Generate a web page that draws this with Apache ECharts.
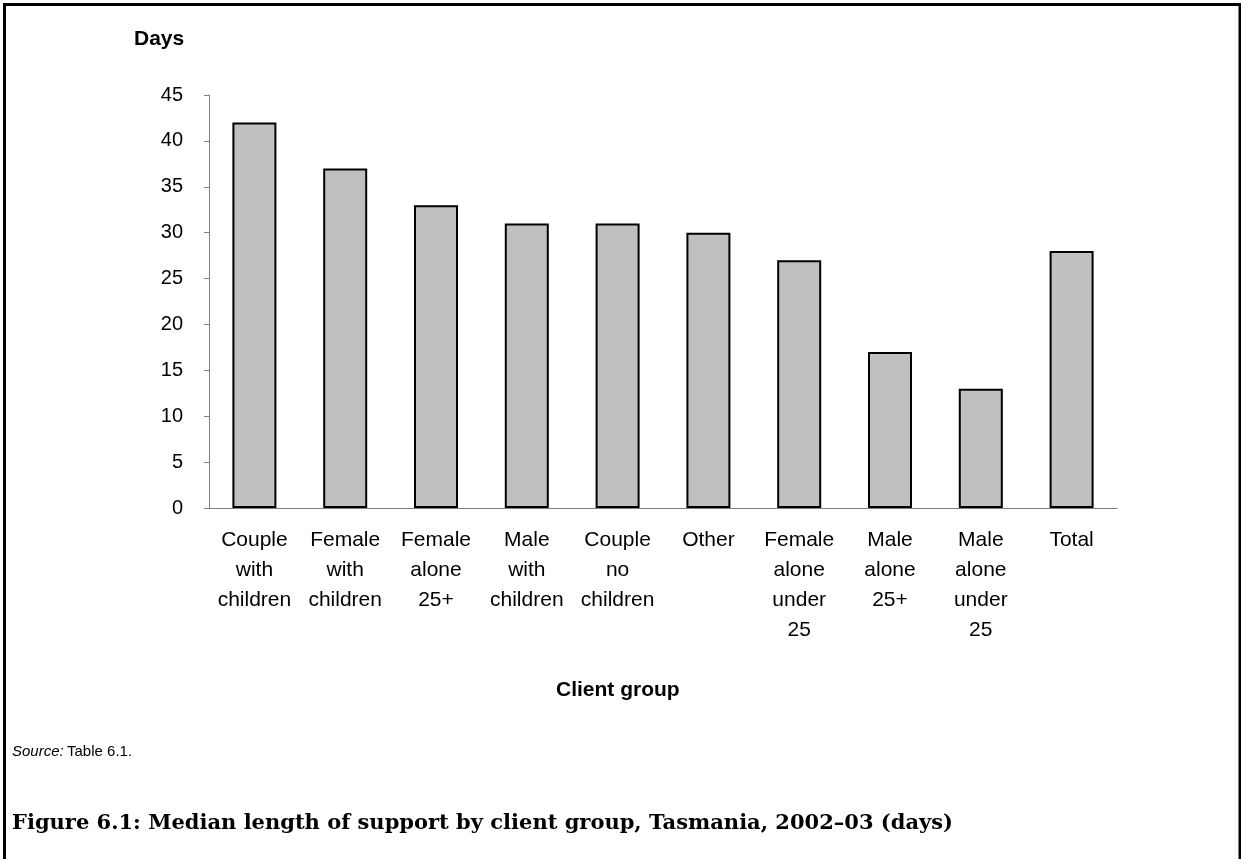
<!DOCTYPE html>
<html>
<head>
<meta charset="utf-8">
<script src="https://cdn.jsdelivr.net/npm/echarts@6/dist/echarts.min.js"></script>
<style>
  html, body { margin: 0; padding: 0; background: #fff; }
  #chart { width: 1241px; height: 859px; }
</style>
</head>
<body>
<div id="chart"></div>
<script>
// Median length of support (days) by client group
const categories = [
  'Couple\nwith\nchildren',
  'Female\nwith\nchildren',
  'Female\nalone\n25+',
  'Male\nwith\nchildren',
  'Couple\nno\nchildren',
  'Other',
  'Female\nalone\nunder\n25',
  'Male\nalone\n25+',
  'Male\nalone\nunder\n25',
  'Total'
];
const medianDays = [42, 37, 33, 31, 31, 30, 27, 17, 13, 28];
const yTicks = { min: 0, max: 45, step: 5 };

const chart = echarts.init(document.getElementById('chart'), null, { renderer: 'canvas' });

const axisGrey = '#808080';
const sans = 'Liberation Sans, Arial, sans-serif';

chart.setOption({
  backgroundColor: '#ffffff',
  animation: false,
  grid: { left: 209, right: 124, top: 95, bottom: 351, containLabel: false },
  xAxis: {
    type: 'category',
    data: categories,
    axisLine: { show: true, lineStyle: { color: axisGrey, width: 1 } },
    axisTick: { show: false },
    axisLabel: {
      interval: 0,
      margin: 17,
      color: '#000',
      fontFamily: sans,
      fontSize: 21,
      lineHeight: 30,
      align: 'center'
    }
  },
  yAxis: {
    type: 'value',
    min: yTicks.min,
    max: yTicks.max,
    interval: yTicks.step,
    splitLine: { show: false },
    axisLine: { show: true, lineStyle: { color: axisGrey, width: 1 } },
    axisTick: { show: true, length: 5, lineStyle: { color: axisGrey, width: 1 } },
    axisLabel: { color: '#000', fontFamily: sans, fontSize: 20, margin: 26 }
  },
  series: [{
    type: 'bar',
    data: medianDays,
    barWidth: 44,
    itemStyle: { color: '#c0c0c0', borderColor: '#000', borderWidth: 2 }
  }],
  graphic: [
    // frame on the left, top and right edges
    {
      type: 'polyline',
      shape: { points: [[4.5, 859], [4.5, 4.5], [1240, 4.5], [1240, 859]] },
      style: { stroke: '#000', lineWidth: 3, fill: null }
    },
    {
      type: 'text', left: 134, top: 29,
      style: { text: 'Days', fontFamily: sans, fontWeight: 'bold', fontSize: 21, fill: '#000' }
    },
    {
      type: 'text', left: 556, top: 680,
      style: { text: 'Client group', fontFamily: sans, fontWeight: 'bold', fontSize: 21, fill: '#000' }
    },
    {
      type: 'text', left: 12, top: 744,
      style: {
        text: '{i|Source:} {n|Table 6.1.}',
        rich: {
          i: { fontFamily: sans, fontStyle: 'italic', fontSize: 15, fill: '#000' },
          n: { fontFamily: sans, fontSize: 15, fill: '#000' }
        }
      }
    },
    {
      type: 'text', left: 12, top: 813,
      style: {
        text: 'Figure 6.1: Median length of support by client group, Tasmania, 2002\u201303 (days)',
        fontFamily: 'DejaVu Serif, serif', fontWeight: 'bold', fontSize: 21, fill: '#000'
      }
    }
  ]
});
</script>
</body>
</html>
